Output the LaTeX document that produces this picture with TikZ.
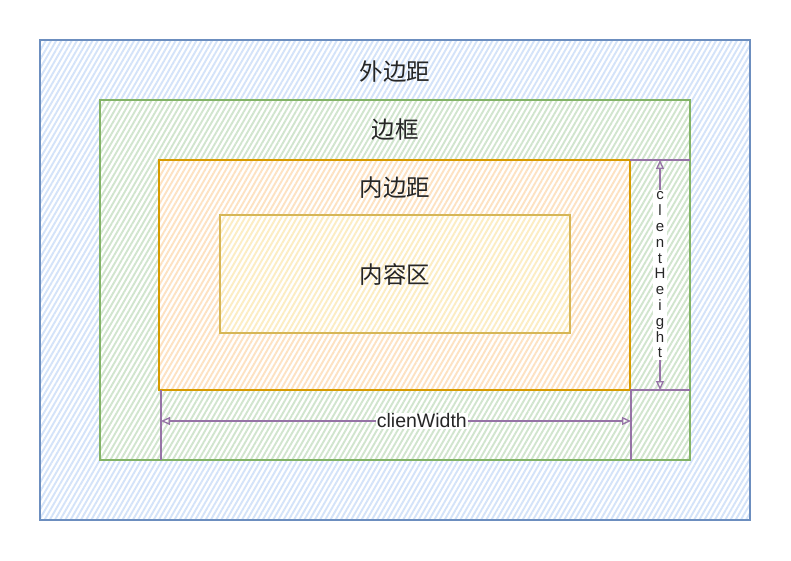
\documentclass[tikz,border=0pt]{standalone}
\usepackage{fontspec}
\setmainfont{Liberation Sans}
\newfontfamily\cjk{Noto Sans CJK SC}
\usepackage{tikz}
\usetikzlibrary{arrows.meta, patterns.meta, positioning}

\definecolor{blueLine}{HTML}{6C8EBF}
\definecolor{blueFill}{HTML}{DAE8FC}
\definecolor{greenLine}{HTML}{82B366}
\definecolor{greenFill}{HTML}{D5E8D4}
\definecolor{orangeLine}{HTML}{D79B00}
\definecolor{orangeFill}{HTML}{FFE6CC}
\definecolor{yellowLine}{HTML}{D6B656}
\definecolor{yellowFill}{HTML}{FFF2CC}
\definecolor{dimLine}{HTML}{9673A6}

\begin{document}
\begin{tikzpicture}[
    x=1pt, y=-1pt,
    layer/.style={rectangle, inner sep=0pt, outer sep=0pt, line width=1.3pt,
                  preaction={fill=white},
                  pattern={Lines[angle=60, distance=4.5pt, line width=1.9pt]}},
    title/.style={font=\cjk\fontsize{23.5}{28}\selectfont, text=black!85},
    dim/.style={draw=dimLine, line width=1.3pt},
    dimarr/.style={dim, {Triangle[open, length=9pt, width=8pt]}-{Triangle[open, length=9pt, width=8pt]}}
]
\useasboundingbox (0,0) rectangle (791,561);

% box model layers
\node[layer, draw=blueLine, pattern color=blueFill!95!blueLine,
      minimum width=710pt, minimum height=480pt, anchor=north west] (margin) at (40,40) {};
\node[layer, draw=greenLine, pattern color=greenFill!95!greenLine,
      minimum width=590pt, minimum height=360pt, anchor=north west] (border) at (100,100) {};
\node[layer, draw=orangeLine, pattern color=orangeFill!95!orangeLine,
      minimum width=471pt, minimum height=230pt, anchor=north west] (padding) at (159,160) {};
\node[layer, draw=yellowLine, pattern color=yellowFill!92!yellowLine,
      minimum width=350pt, minimum height=118pt, anchor=north west] (content) at (220,215) {};

\node[title] (marginText)  at (395,72)  {外边距};
\node[title] (borderText)  at (395,130) {边框};
\node[title] (paddingText) at (395,188) {内边距};
\node[title] (contentText) at (395,275) {内容区};

% clienWidth
\coordinate (wlTop) at (161,390);
\coordinate (wlBot) at (161,460);
\coordinate (wrTop) at (631,390);
\coordinate (wrBot) at (631,460);
\coordinate (wlMid) at (161,421);
\coordinate (wrMid) at (631,421);
\draw[dim] (wlTop) -- (wlBot);
\draw[dim] (wrTop) -- (wrBot);
\draw[dimarr] (wlMid) -- (wrMid)
    node[pos=0.555, fill=white, inner sep=1pt, font=\fontsize{19.5}{22}\selectfont, text=black!85] (widthText) {clienWidth};

% clentHeight
\coordinate (htTopL) at (630,160);
\coordinate (htTopR) at (690,160);
\coordinate (htBotL) at (630,390);
\coordinate (htBotR) at (690,390);
\coordinate (htTop) at (660,160);
\coordinate (htBot) at (660,390);
\draw[dim] (htTopL) -- (htTopR);
\draw[dim] (htBotL) -- (htBotR);
\draw[dimarr] (htTop) -- (htBot)
    node[midway, fill=white, inner sep=1.5pt, align=center, text=black!85,
         font=\fontsize{15}{15.8}\selectfont] (heightText)
    {c\\l\\e\\n\\t\\H\\e\\i\\g\\h\\t};
\end{tikzpicture}
\end{document}
